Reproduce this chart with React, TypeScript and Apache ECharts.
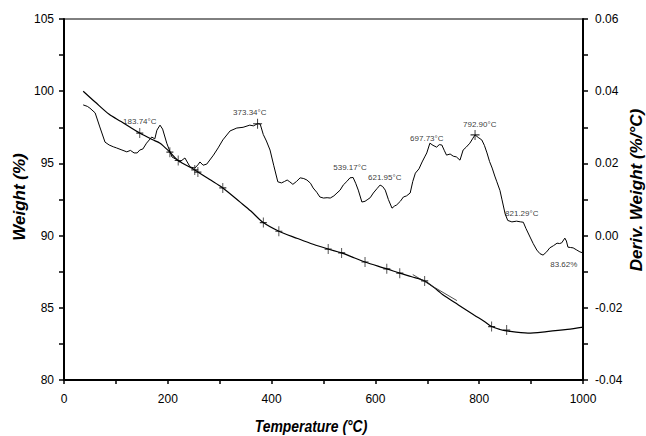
import React, { useEffect, useRef } from "react";
import * as echarts from "echarts";

// Thermogravimetric (weight) curve
const TG_TEMP = [37, 60, 87, 110, 146, 170, 185, 204, 220, 252, 280, 306, 340, 360, 384, 414, 450, 480, 509, 535, 560, 580, 622, 647, 670, 695, 720, 730, 760, 790, 810, 824, 840, 853, 894, 930, 970, 1000];
const TG_WEIGHT = [100.0, 99.25, 98.4, 97.9, 97.1, 96.65, 96.4, 95.78, 95.2, 94.55, 93.9, 93.3, 92.3, 91.7, 90.9, 90.3, 89.8, 89.4, 89.07, 88.8, 88.45, 88.17, 87.7, 87.4, 87.15, 86.86, 86.2, 85.9, 85.2, 84.5, 84.05, 83.7, 83.5, 83.4, 83.25, 83.35, 83.5, 83.66];

// Derivative weight curve
const DTG_TEMP = [37, 45, 50, 60, 69, 79, 87, 95, 101, 110, 121, 128, 135, 141, 146, 152, 159, 169, 175, 179, 185, 190, 198, 208, 215, 223, 233, 243, 252, 258, 262, 268, 275, 288, 297, 306, 320, 333, 345, 358, 365, 373, 378, 384, 390, 397, 404, 412, 419, 425, 430, 435, 441, 448, 455, 462, 468, 475, 480, 487, 493, 500, 507, 513, 520, 526, 532, 538, 545, 551, 557, 562, 567, 574, 580, 584, 590, 596, 603, 609, 614, 619, 625, 632, 637, 641, 648, 654, 660, 667, 672, 677, 684, 690, 695, 699, 705, 711, 718, 723, 728, 733, 737, 744, 750, 756, 763, 769, 775, 782, 788, 792, 798, 805, 810, 815, 820, 825, 830, 834, 840, 844, 850, 855, 863, 872, 880, 885, 890, 898, 904, 911, 917, 923, 930, 936, 943, 950, 955, 959, 965, 968, 971, 976, 981, 988, 994, 1000];
const DTG_VALUE = [0.0362, 0.0358, 0.0353, 0.034, 0.0301, 0.0259, 0.0251, 0.0246, 0.0243, 0.0238, 0.0232, 0.0236, 0.0229, 0.0229, 0.0237, 0.024, 0.0256, 0.0273, 0.0268, 0.0292, 0.0306, 0.0295, 0.0256, 0.0218, 0.0212, 0.0204, 0.0215, 0.019, 0.0187, 0.0196, 0.0204, 0.0195, 0.0198, 0.0223, 0.0243, 0.0265, 0.029, 0.0298, 0.03, 0.0306, 0.0304, 0.031, 0.0309, 0.028, 0.0262, 0.0237, 0.0195, 0.0149, 0.0146, 0.015, 0.0154, 0.0149, 0.0142, 0.015, 0.016, 0.0158, 0.0154, 0.0145, 0.0132, 0.012, 0.0107, 0.0104, 0.0105, 0.0104, 0.011, 0.0118, 0.0126, 0.014, 0.015, 0.016, 0.0161, 0.0145, 0.0126, 0.0093, 0.0095, 0.0099, 0.0105, 0.0118, 0.013, 0.014, 0.0136, 0.0126, 0.01, 0.0076, 0.0082, 0.0085, 0.0095, 0.0107, 0.011, 0.0118, 0.015, 0.0173, 0.0185, 0.0204, 0.0218, 0.0229, 0.0256, 0.025, 0.0245, 0.0252, 0.0251, 0.0235, 0.0223, 0.0226, 0.022, 0.0218, 0.0209, 0.0237, 0.0245, 0.0256, 0.027, 0.0279, 0.0272, 0.0265, 0.025, 0.0229, 0.0205, 0.0187, 0.0165, 0.0149, 0.0125, 0.0099, 0.006, 0.0042, 0.0038, 0.004, 0.0038, 0.0037, 0.002, -0.0004, -0.0022, -0.004, -0.005, -0.0054, -0.0045, -0.0034, -0.0028, -0.0021, -0.0022, -0.002, -0.0007, -0.0015, -0.0032, -0.0033, -0.0034, -0.004, -0.0045, -0.0048];

// Onset-analysis crosses on the weight curve
const TG_CROSS_TEMP = [146, 204, 220, 252, 258, 306, 384, 414, 509, 535, 580, 622, 647, 695, 824, 853];
const TG_CROSS_WEIGHT = [97.1, 95.78, 95.2, 94.55, 94.4, 93.3, 90.9, 90.3, 89.07, 88.8, 88.17, 87.7, 87.4, 86.86, 83.7, 83.46];

// Tangent segment used for onset analysis
const TANGENT_TEMP = [672, 757];
const TANGENT_WEIGHT = [87.3, 85.5];

// Peak crosses on the derivative curve
const DTG_CROSS_TEMP = [373, 792];
const DTG_CROSS_VALUE = [0.031, 0.0279];

// Annotations (anchored in derivative-axis coordinates)
const ANNOT_TEXT = ["183.74°C", "373.34°C", "539.17°C", "621.95°C", "697.73°C", "792.90°C", "821.29°C", "83.62%"];
const ANNOT_TEMP = [146, 358, 551, 618, 699, 801, 882, 963];
const ANNOT_VALUE = [0.0315, 0.034, 0.019, 0.0162, 0.027, 0.0309, 0.006, -0.0081];

// Axis ranges
const X_MIN = 0, X_MAX = 1000, X_STEP = 100;
const W_MIN = 80, W_MAX = 105, W_STEP = 2.5;
const D_MIN = -0.04, D_MAX = 0.06, D_STEP = 0.01;

const FONT = "'Liberation Sans', Arial, sans-serif";
const CROSS = "path://M5,0 L5,10 M0,5 L10,5";

export default function App() {
  const ref = useRef<HTMLDivElement>(null);
  useEffect(() => {
    if (!ref.current) return;
    const chart = echarts.init(ref.current, null, { renderer: "svg" });
    const axisLabel = { color: "#000", fontFamily: FONT, fontSize: 12 };
    const option: any = {
      animation: false,
      backgroundColor: "#fff",
      grid: { left: 64, right: 63, top: 19, bottom: 56, show: true, borderColor: "#000", borderWidth: 1, backgroundColor: "transparent" },
      xAxis: {
        type: "value", min: X_MIN, max: X_MAX, interval: X_STEP,
        axisLine: { show: true, onZero: false, lineStyle: { color: "#000", width: 2 } },
        axisTick: { show: true, length: 4, lineStyle: { color: "#000", width: 1.5 } },
        splitLine: { show: false },
        axisLabel: { ...axisLabel, margin: 13, formatter: (v: number) => (Math.round(v) % 200 === 0 ? String(Math.round(v)) : "") },
      },
      yAxis: [
        {
          type: "value", min: W_MIN, max: W_MAX, interval: W_STEP, position: "left",
          axisLine: { show: true, onZero: false, lineStyle: { color: "#000", width: 2 } },
          axisTick: { show: true, length: 5, lineStyle: { color: "#000", width: 1.5 } },
          splitLine: { show: false },
          axisLabel: { ...axisLabel, margin: 10, formatter: (v: number) => (Math.abs(v % 5) < 1e-9 ? String(Math.round(v)) : "") },
        },
        {
          type: "value", min: D_MIN, max: D_MAX, interval: D_STEP, position: "right",
          axisLine: { show: true, onZero: false, lineStyle: { color: "#000", width: 2 } },
          axisTick: { show: true, length: 5, lineStyle: { color: "#000", width: 1.5 } },
          splitLine: { show: false },
          axisLabel: {
            ...axisLabel, margin: 12,
            formatter: (v: number) => {
              const k = Math.round(v * 100);
              if (k % 2 !== 0) return "";
              return k === 0 ? "0.00" : (k / 100).toFixed(2);
            },
          },
        },
      ],
      series: [
        {
          type: "line", name: "Weight", yAxisIndex: 0, symbol: "none", smooth: 0.3,
          lineStyle: { color: "#000", width: 1.2 },
          data: TG_TEMP.map((t, i) => [t, TG_WEIGHT[i]]),
        },
        {
          type: "line", name: "Tangent", yAxisIndex: 0, symbol: "none",
          lineStyle: { color: "#222", width: 0.8 },
          data: TANGENT_TEMP.map((t, i) => [t, TANGENT_WEIGHT[i]]),
        },
        {
          type: "line", name: "Deriv", yAxisIndex: 1, symbol: "none",
          lineStyle: { color: "#000", width: 1 },
          data: DTG_TEMP.map((t, i) => [t, DTG_VALUE[i]]),
        },
        {
          type: "scatter", yAxisIndex: 0, symbol: CROSS, symbolSize: [7, 10],
          itemStyle: { color: "#000", borderColor: "#000", borderWidth: 1 },
          data: TG_CROSS_TEMP.map((t, i) => [t, TG_CROSS_WEIGHT[i]]),
        },
        {
          type: "scatter", yAxisIndex: 1, symbol: CROSS, symbolSize: [9, 10],
          itemStyle: { color: "#000", borderColor: "#000", borderWidth: 1 },
          data: DTG_CROSS_TEMP.map((t, i) => [t, DTG_CROSS_VALUE[i]]),
        },
        {
          type: "scatter", yAxisIndex: 1, symbol: "circle", symbolSize: 0,
          itemStyle: { color: "#000" },
          label: {
            show: true, position: [0, 0], align: "center", verticalAlign: "middle",
            formatter: "{b}", color: "#000",
            textBorderWidth: 0, fontFamily: FONT, fontSize: 8,
          },
          data: ANNOT_TEXT.map((s, i) => ({ name: s, value: [ANNOT_TEMP[i], ANNOT_VALUE[i]] })),
        },
      ],
      graphic: [
        {
          type: "text", x: 19, y: 197, rotation: Math.PI / 2,
          style: { text: "Weight (%)", fontFamily: FONT, fontSize: 17, fontWeight: "bold", fontStyle: "italic", fill: "#000", textAlign: "center", textVerticalAlign: "middle" },
        },
        {
          type: "text", x: 636, y: 190, rotation: Math.PI / 2,
          style: { text: "Deriv. Weight (%/°C)", fontFamily: FONT, fontSize: 17, fontWeight: "bold", fontStyle: "italic", fill: "#000", textAlign: "center", textVerticalAlign: "middle" },
        },
        {
          type: "text", x: 311, y: 426, scaleX: 0.82,
          style: { text: "Temperature (°C)", fontFamily: FONT, fontSize: 17, fontWeight: "bold", fontStyle: "italic", fill: "#000", textAlign: "center", textVerticalAlign: "middle" },
        },
      ],
    };
    chart.setOption(option);
    return () => chart.dispose();
  }, []);
  return <div ref={ref} style={{ position: "fixed", left: 0, top: 0, width: 646, height: 436, background: "#fff" }} />;
}
